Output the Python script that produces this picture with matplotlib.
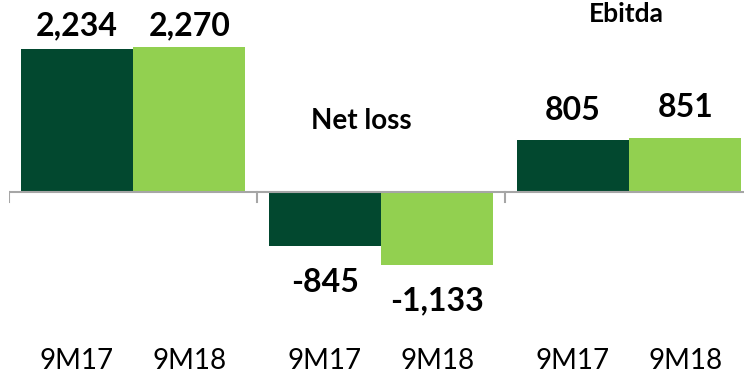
import numpy as np
import matplotlib.pyplot as plt

plt.rcParams['font.family'] = ['Lato', 'DejaVu Sans']

# Resultados acumulados 9M17 vs 9M18
grupos = ['', 'Net loss', 'Ebitda']
periodos = ['9M17', '9M18']
v_9m17 = [2234, -845, 805]
v_9m18 = [2270, -1133, 851]
etiquetas_9m17 = ['2,234', '-845', '805']
etiquetas_9m18 = ['2,270', '-1,133', '851']

verde_oscuro = '#02482F'
verde_claro = '#92D050'

fig = plt.figure(figsize=(7.44, 3.76), dpi=100)
ax = fig.add_axes([9 / 744, 0, 1.0, 1])
ax.set_xlim(-0.5, 2.5)
ax.set_ylim(-2875, 3000)
ax.axis('off')

x = np.arange(len(grupos))
ancho = 0.453
desp = 0.227

ax.bar(x - desp, v_9m17, ancho, color=verde_oscuro)
ax.bar(x + desp, v_9m18, ancho, color=verde_claro)

# eje horizontal con marcas entre grupos
ax.plot([-0.5, 2.5], [0, 0], color='#A6A6A6', lw=1.5, solid_capstyle='butt')
for b in [-0.5, 0.5, 1.5, 2.5]:
    ax.plot([b, b], [0, -160], color='#A6A6A6', lw=1.5)

# etiquetas de valor (las altas se bajan para que quepan)
tope = 2450
for xs, vals, txts in [(x - desp, v_9m17, etiquetas_9m17), (x + desp, v_9m18, etiquetas_9m18)]:
    for xi, v, t in zip(xs, vals, txts):
        if v >= 0:
            y = min(v + 325, tope)
        else:
            y = v - 720
        ax.text(xi, y, t, ha='center', va='baseline', fontsize=23,
                fontweight='bold')

# nombres de los grupos
ax.text(0.92, 1110, grupos[1], ha='center', va='center', fontsize=20,
        fontweight='bold')
ax.text(1.99, 2780, grupos[2], ha='center', va='center', fontsize=19,
        fontweight='bold')

# periodos bajo cada barra
for xi in x:
    ax.text(xi - desp, -2640, periodos[0], ha='center', va='center', fontsize=20)
    ax.text(xi + desp, -2640, periodos[1], ha='center', va='center', fontsize=20)

fig.savefig('out.png', dpi=100)
